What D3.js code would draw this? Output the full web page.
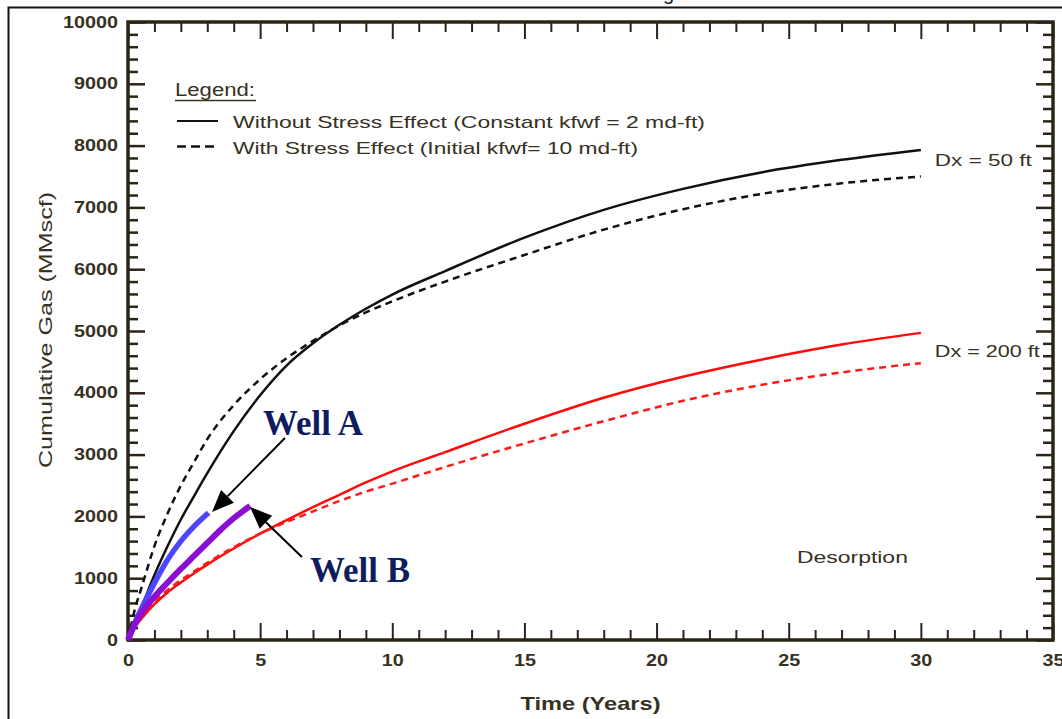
<!DOCTYPE html>
<html>
<head>
<meta charset="utf-8">
<script src="https://cdn.jsdelivr.net/npm/d3@7"></script>
<style>
  html, body { margin: 0; padding: 0; background: #ffffff; }
  svg { display: block; }
</style>
</head>
<body>
<svg id="chart" width="1062" height="719" font-family="Liberation Sans, Arial, sans-serif"></svg>
<script>
// ---------------- DATA ----------------
const xTickLabels = [0, 5, 10, 15, 20, 25, 30, 35];
const yTickLabels = [0, 1000, 2000, 3000, 4000, 5000, 6000, 7000, 8000, 9000, 10000];

const simYears = [0, 0.25, 0.5, 1, 1.5, 2, 2.5, 3, 4, 5, 6, 7, 8, 9, 10, 12, 15, 18, 21, 24, 27, 30];
// Dx = 50 ft
const gas50NoStress = [0, 260, 520, 1050, 1520, 1950, 2330, 2700, 3380, 3960, 4440, 4800, 5100, 5360, 5590, 5970, 6510, 6960, 7300, 7570, 7770, 7930];
const gas50Stress   = [0, 480, 830, 1520, 2050, 2500, 2880, 3250, 3800, 4220, 4560, 4840, 5090, 5300, 5480, 5800, 6230, 6640, 6970, 7220, 7390, 7500];
// Dx = 200 ft
const gas200NoStress = [0, 200, 340, 580, 770, 930, 1080, 1220, 1480, 1720, 1940, 2150, 2350, 2550, 2730, 3040, 3500, 3920, 4260, 4540, 4780, 4970];
const gas200Stress   = [0, 240, 390, 630, 810, 970, 1110, 1250, 1500, 1720, 1910, 2080, 2250, 2400, 2530, 2800, 3180, 3540, 3870, 4130, 4330, 4480];

// Field wells
const wellAYears = [0, 0.25, 0.5, 1, 1.5, 2, 2.5, 3.05];
const wellAGas   = [0, 270, 500, 920, 1300, 1600, 1840, 2060];
const wellBYears = [0, 0.25, 0.5, 1, 1.5, 2, 2.5, 3, 3.5, 4, 4.3, 4.62];
const wellBGas   = [0, 250, 430, 700, 930, 1150, 1360, 1570, 1780, 1970, 2070, 2170];

const legendLabels = ["Without Stress Effect (Constant kfwf = 2 md-ft)", "With Stress Effect (Initial kfwf= 10 md-ft)"];

// annotations (data coordinates)
const wellALabel = {text: "Well A", t: 5.11, v: 3317, arrowFrom: [5.94, 3269], arrowTo: [3.18, 2071]};
const wellBLabel = {text: "Well B", t: 6.89, v: 939, arrowFrom: [6.58, 1343], arrowTo: [4.62, 2152]};
const curveLabels = [
  {text: "Dx = 50 ft", t: 30.53, v: 7670, len: 97},
  {text: "Dx = 200 ft", t: 30.53, v: 4579, len: 105},
  {text: "Desorption", t: 25.31, v: 1246, len: 111}
];

// ---------------- LAYOUT ----------------
const svg = d3.select("#chart");
const L = 128, R = 1053, T = 22, B = 640;
const x = d3.scaleLinear().domain([0, 35]).range([L, R]);
const y = d3.scaleLinear().domain([0, 10000]).range([B, T]);
const axisColor = "#2b2517";
const textColor = "#37311f";
const sansFont = "Liberation Sans, Arial, sans-serif";

// outer frame
svg.append("rect").attr("x", 8.5).attr("y", 7.5).attr("width", 1070).attr("height", 730)
  .attr("fill", "none").attr("stroke", "#111").attr("stroke-width", 2);
// cut-off title descender (the reference title lies above the picture)
svg.append("text").attr("x", 663).attr("y", 0).attr("font-size", 20).attr("fill", "#222").text("g");

// ---------------- AXES ----------------
function styleAxis(g, sw) {
  g.select(".domain").remove();
  g.selectAll(".tick line").attr("stroke", axisColor).attr("stroke-width", sw);
}
const xMinor = d3.range(0, 36, 1).filter(d => d % 5 !== 0);
const yMinor = d3.range(0, 10001, 200).filter(d => d % 1000 !== 0);

// bottom
const gB = svg.append("g").attr("transform", `translate(0,${B})`)
  .call(d3.axisBottom(x).tickValues(xTickLabels).tickSize(-17).tickPadding(15).tickFormat(d3.format("d")));
styleAxis(gB, 2);
svg.append("g").attr("transform", `translate(0,${B})`)
  .call(d3.axisBottom(x).tickValues(xMinor).tickSize(-10).tickFormat(""))
  .call(g => styleAxis(g, 2));
// top
svg.append("g").attr("transform", `translate(0,${T})`)
  .call(d3.axisTop(x).tickValues(xTickLabels).tickSize(-17).tickFormat(""))
  .call(g => styleAxis(g, 2));
svg.append("g").attr("transform", `translate(0,${T})`)
  .call(d3.axisTop(x).tickValues(xMinor).tickSize(-10).tickFormat(""))
  .call(g => styleAxis(g, 2));
// left
const gL = svg.append("g").attr("transform", `translate(${L},0)`)
  .call(d3.axisLeft(y).tickValues(yTickLabels).tickSize(-17).tickPadding(10).tickFormat(d3.format("d")));
styleAxis(gL, 2.5);
svg.append("g").attr("transform", `translate(${L},0)`)
  .call(d3.axisLeft(y).tickValues(yMinor).tickSize(-10).tickFormat(""))
  .call(g => styleAxis(g, 2.5));
// right
svg.append("g").attr("transform", `translate(${R},0)`)
  .call(d3.axisRight(y).tickValues(yTickLabels).tickSize(-17).tickFormat(""))
  .call(g => styleAxis(g, 2.5));
svg.append("g").attr("transform", `translate(${R},0)`)
  .call(d3.axisRight(y).tickValues(yMinor).tickSize(-10).tickFormat(""))
  .call(g => styleAxis(g, 2.5));

[gB, gL].forEach(g => g.selectAll(".tick text")
  .attr("font-size", 16).attr("font-weight", "bold").attr("fill", textColor)
  .attr("font-family", sansFont)
  .attr("textLength", d => String(d).length * 11)
  .attr("lengthAdjust", "spacingAndGlyphs"));

// plot frame
svg.append("rect").attr("x", L).attr("y", T).attr("width", R - L).attr("height", B - T)
  .attr("fill", "none").attr("stroke", axisColor).attr("stroke-width", 3.5);

// axis titles
svg.append("text").attr("x", (L + R) / 2).attr("y", 710).attr("text-anchor", "middle")
  .attr("font-size", 19).attr("font-weight", "bold").attr("fill", textColor)
  .attr("textLength", 140).attr("lengthAdjust", "spacingAndGlyphs").text("Time (Years)");
svg.append("text").attr("transform", `translate(52,${(192 + 468) / 2}) rotate(-90)`)
  .attr("text-anchor", "middle").attr("font-size", 18).attr("fill", textColor)
  .attr("textLength", 276).attr("lengthAdjust", "spacingAndGlyphs").text("Cumulative Gas (MMscf)");

// ---------------- CURVES ----------------
const line = d3.line().x(d => x(d[0])).y(d => y(d[1])).curve(d3.curveMonotoneX);
const zip = (a, b) => a.map((t, i) => [t, b[i]]);
const series = [
  {data: zip(simYears, gas50NoStress), color: "#111111", dash: null, w: 2.5},
  {data: zip(simYears, gas50Stress), color: "#111111", dash: "7,5", w: 2.5},
  {data: zip(simYears, gas200NoStress), color: "#ff0a0a", dash: null, w: 2.5},
  {data: zip(simYears, gas200Stress), color: "#ff1a1a", dash: "7,5", w: 2.5},
  {data: zip(wellAYears, wellAGas), color: "#4d46ff", dash: null, w: 5.5},
  {data: zip(wellBYears, wellBGas), color: "#8a0fd2", dash: null, w: 6}
];
svg.append("g").selectAll("path").data(series).join("path")
  .attr("d", d => line(d.data)).attr("fill", "none")
  .attr("stroke", d => d.color).attr("stroke-width", d => d.w)
  .attr("stroke-dasharray", d => d.dash).attr("stroke-linecap", "butt");

// ---------------- LEGEND ----------------
const lg = svg.append("g");
lg.append("text").attr("x", 175).attr("y", 96).attr("font-size", 18).attr("fill", textColor)
  .attr("textLength", 80).attr("lengthAdjust", "spacingAndGlyphs").text("Legend:");
lg.append("line").attr("x1", 175).attr("x2", 256).attr("y1", 100.5).attr("y2", 100.5)
  .attr("stroke", textColor).attr("stroke-width", 1.5);
lg.append("line").attr("x1", 177).attr("x2", 218).attr("y1", 121).attr("y2", 121)
  .attr("stroke", "#111").attr("stroke-width", 2);
lg.append("line").attr("x1", 177).attr("x2", 216).attr("y1", 146.5).attr("y2", 146.5)
  .attr("stroke", "#111").attr("stroke-width", 2.5).attr("stroke-dasharray", "9,5");
lg.append("text").attr("x", 233).attr("y", 128).attr("font-size", 17).attr("fill", textColor)
  .attr("textLength", 472).attr("lengthAdjust", "spacingAndGlyphs").text(legendLabels[0]);
lg.append("text").attr("x", 233).attr("y", 154).attr("font-size", 17).attr("fill", textColor)
  .attr("textLength", 405).attr("lengthAdjust", "spacingAndGlyphs").text(legendLabels[1]);

// ---------------- ANNOTATIONS ----------------
curveLabels.forEach(c => {
  svg.append("text").attr("x", x(c.t)).attr("y", y(c.v)).attr("font-size", 17).attr("fill", textColor)
    .attr("textLength", c.len).attr("lengthAdjust", "spacingAndGlyphs").text(c.text);
});

function arrow(from, to) {
  const x1 = x(from[0]), y1 = y(from[1]), x2 = x(to[0]), y2 = y(to[1]);
  const ang = Math.atan2(y2 - y1, x2 - x1);
  const len = 22, half = 9;
  const bx = x2 - len * Math.cos(ang), by = y2 - len * Math.sin(ang);
  svg.append("line").attr("x1", x1).attr("y1", y1).attr("x2", bx).attr("y2", by)
    .attr("stroke", "#000").attr("stroke-width", 2);
  const p1 = [bx + half * Math.sin(ang), by - half * Math.cos(ang)];
  const p2 = [bx - half * Math.sin(ang), by + half * Math.cos(ang)];
  svg.append("polygon").attr("points", [[x2, y2], p1, p2].map(p => p.join(",")).join(" "))
    .attr("fill", "#000");
}
[wellALabel, wellBLabel].forEach(w => {
  arrow(w.arrowFrom, w.arrowTo);
  svg.append("text").attr("x", x(w.t)).attr("y", y(w.v))
    .attr("font-family", "Liberation Serif, Times New Roman, serif")
    .attr("font-size", 35).attr("font-weight", "bold").attr("fill", "#0f1d5e")
    .attr("textLength", 100).attr("lengthAdjust", "spacingAndGlyphs").text(w.text);
});
</script>
</body>
</html>
